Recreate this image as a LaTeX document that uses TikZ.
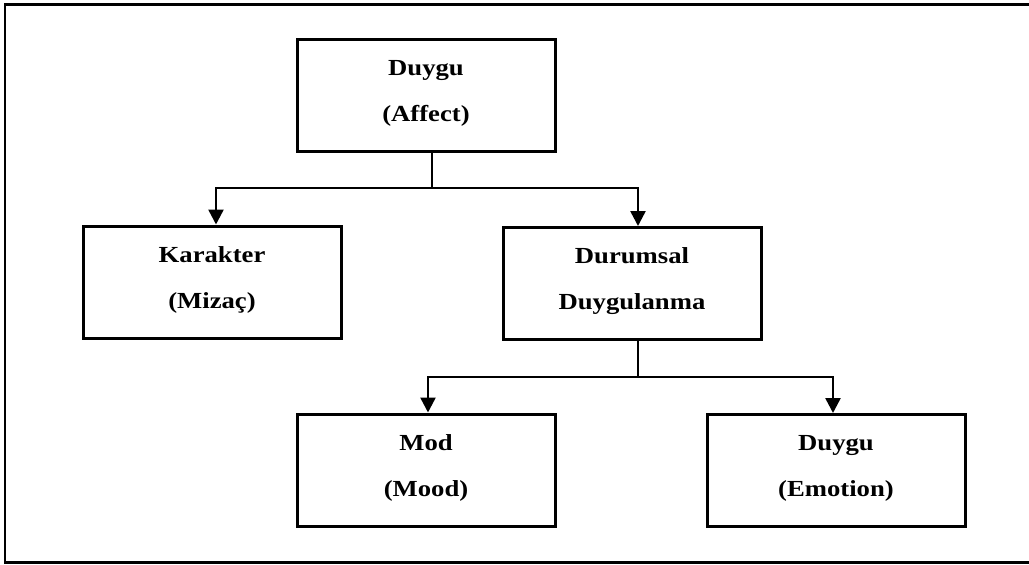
\documentclass[tikz,border=0pt]{standalone}
\usepackage{fontspec}
\setmainfont{Liberation Serif}
% slightly widened bold serif for the box labels
\newfontfamily\labelfont[FakeStretch=1.16]{Liberation Serif}
\usetikzlibrary{arrows.meta}

% struts that set the first line's height and the last line's depth
\newcommand{\toprl}{\rule{0pt}{0.75em}}
\newcommand{\botrl}{\rule[-0.45em]{0pt}{0.45em}}

\tikzset{
  box/.style={draw, line width=3pt, minimum width=258pt, minimum height=112pt,
    inner sep=0pt, align=center,
    font=\labelfont\fontsize{23}{46}\selectfont\bfseries},
  link/.style={line width=2.5pt},
  arrowlink/.style={link, -{Triangle[length=15pt,width=15pt]}},
  frame/.style={line width=2.8pt}
}

\begin{document}
\begin{tikzpicture}[x=1pt, y=-1pt]
  \clip (0,0) rectangle (1029,565);
  \fill[white] (0,0) rectangle (1029,565);

  % outer frame (its right side lies beyond the page edge)
  \draw[frame] (1040,4.5) -- (5,4.5) -- (5,562.5) -- (1040,562.5);

  % boxes
  \node[box] (affect)    at (426,95)    {\toprl Duygu\\(Affect)\botrl};
  \node[box] (karakter)  at (212,282)   {\toprl Karakter\\(Mizaç)\botrl};
  \node[box] (durumsal)  at (632,283.5) {\toprl Durumsal\\Duygulanma\botrl};
  \node[box] (mod)       at (426,470)   {\toprl Mod\\(Mood)\botrl};
  \node[box] (emotion)   at (836,470.5) {\toprl Duygu\\(Emotion)\botrl};

  % branch points
  \coordinate (j1) at ([xshift=6pt]affect.south |- 0,188);
  \coordinate (j2) at ([xshift=6pt]durumsal.south |- 0,377);

  % first level
  \draw[link] ([xshift=6pt]affect.south) -- (j1);
  \draw[arrowlink] (j1) -| ([xshift=4pt]karakter.north);
  \draw[arrowlink] (j1) -| ([xshift=6pt]durumsal.north);

  % second level
  \draw[link] ([xshift=6pt]durumsal.south) -- (j2);
  \draw[arrowlink] (j2) -| ([xshift=2pt]mod.north);
  \draw[arrowlink] (j2) -| ([xshift=-3pt]emotion.north);
\end{tikzpicture}
\end{document}
